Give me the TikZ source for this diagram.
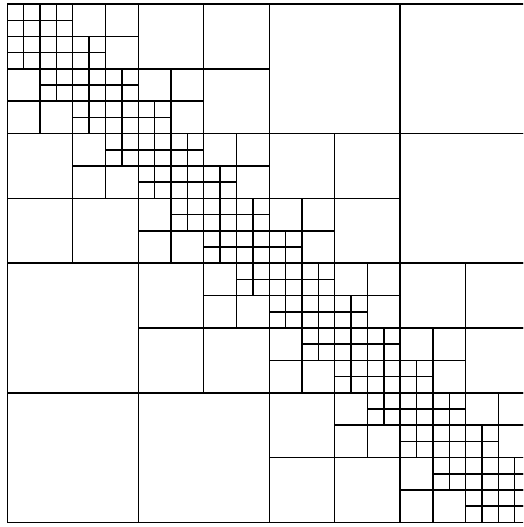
\documentclass[tikz,border=0pt]{standalone}
\usetikzlibrary{calc}
\tikzset{
  blockline/.style={draw=black, line width=1.2pt},
}
\newcommand{\hblock}[3]{% #1 = row start, #2 = column start, #3 = block size
  \begingroup
  \pgfmathtruncatemacro{\hr}{#1}\pgfmathtruncatemacro{\hc}{#2}\pgfmathtruncatemacro{\hs}{#3}
  \pgfmathtruncatemacro{\hgap}{max(\hr-\hc-\hs,\hc-\hr-\hs)}
  \ifnum\hs=1 \draw[blockline] (\hc,\hr) rectangle ++(1,1);
  \else\ifnum\hgap<\hs
    \pgfmathtruncatemacro{\hh}{\hs/2}
    \pgfmathtruncatemacro{\hrm}{\hr+\hh}\pgfmathtruncatemacro{\hcm}{\hc+\hh}
    \edef\hnext{\noexpand\hblock{\hr}{\hc}{\hh}\noexpand\hblock{\hr}{\hcm}{\hh}%
      \noexpand\hblock{\hrm}{\hc}{\hh}\noexpand\hblock{\hrm}{\hcm}{\hh}}\hnext
  \else \draw[blockline] (\hc,\hr) rectangle ++(\hs,\hs);
  \fi\fi
  \endgroup}

\begin{document}
\begin{tikzpicture}
  \useasboundingbox (0,0) rectangle (15.69,-15.81);
  \clip (0,0) rectangle (15.69,-15.81);
  % 32 x 32 blocks, split while the two index ranges are closer than their size
  \begin{scope}[shift={(0.219cm,-0.12cm)}, x=0.4911cm, y=-0.486cm]
    \hblock{0}{0}{32}
  \end{scope}
\end{tikzpicture}
\end{document}
